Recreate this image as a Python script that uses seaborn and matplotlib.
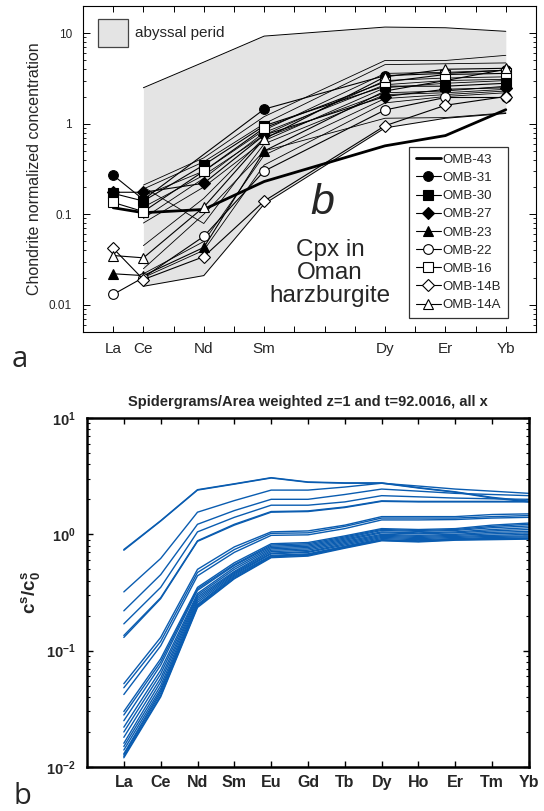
import numpy as np
import pandas as pd
import matplotlib
matplotlib.use("Agg")
import matplotlib.pyplot as plt
import seaborn as sns
from matplotlib.lines import Line2D
from matplotlib.patches import Rectangle
from matplotlib.ticker import LogLocator, NullFormatter, FixedLocator, FixedFormatter

sns.set_theme(style="white")
plt.rcParams["font.family"] = ["Liberation Sans", "DejaVu Sans"]
plt.rcParams["mathtext.fontset"] = "custom"
plt.rcParams["mathtext.rm"] = "Liberation Sans"
plt.rcParams["mathtext.bf"] = "Liberation Sans:bold"
plt.rcParams["mathtext.it"] = "Liberation Sans:italic"

# ---------------------------------------------------------------- panel a data
atomic_number = {"La": 57, "Ce": 58, "Nd": 60, "Sm": 62, "Dy": 66, "Er": 68, "Yb": 70}
ree_a = ["La", "Ce", "Nd", "Sm", "Dy", "Er", "Yb"]

# abyssal peridotite cpx field (Ce..Yb)
field_ree = ["Ce", "Nd", "Sm", "Dy", "Er", "Yb"]
field_upper = [2.5, 4.8, 9.3, 11.7, 11.5, 10.5]
field_lower = [0.016, 0.021, 0.13, 0.9, 1.15, 1.3]

# other abyssal peridotite cpx patterns (Ce..Yb)
field_ree_lines = ["Ce", "Nd", "Sm", "Dy", "Er", "Yb"]
abyssal_1 = [0.21, 0.42, 1.2, 5.0, 5.0, 5.7]
abyssal_2 = [0.19, 0.38, 1.0, 4.5, 4.6, 4.7]
abyssal_3 = [0.16, 0.30, 0.85, 3.6, 3.7, 3.9]
abyssal_4 = [0.12, 0.27, 0.75, 3.0, 3.2, 3.3]
abyssal_5 = [0.09, 0.25, 0.80, 2.7, 3.0, 3.1]
abyssal_6 = [0.08, 0.20, 0.65, 2.5, 2.8, 3.0]
abyssal_7 = [0.045, 0.15, 0.70, 2.2, 2.3, 2.6]
abyssal_8 = [0.022, 0.05, 0.45, 1.9, 2.1, 2.3]
abyssal_9 = [0.020, 0.04, 0.35, 1.7, 2.0, 2.2]
abyssal_10 = [0.20, 0.079, 0.60, 2.1, 2.2, 2.4]
abyssal_11 = [0.025, 0.10, 0.50, 1.15, 1.17, 1.32]

# Oman harzburgite cpx samples (La, Ce, Nd, Sm, Dy, Er, Yb)
omb43 = [0.118, 0.104, 0.113, 0.23, 0.57, 0.74, 1.43]
omb31 = [0.27, 0.145, np.nan, 1.45, 3.4, 3.6, 3.9]
omb30 = [0.17, 0.14, 0.35, 0.95, 2.6, 2.6, 2.8]
omb27 = [0.175, 0.175, 0.22, 0.75, 2.0, 2.4, 2.5]
omb23 = [0.022, 0.021, 0.043, 0.5, 2.3, 3.0, 4.0]
omb22 = [0.013, 0.020, 0.057, 0.30, 1.42, 1.95, 1.95]
omb16 = [0.135, 0.107, 0.30, 0.90, 2.9, 3.5, 3.6]
omb14b = [0.042, 0.019, 0.034, 0.14, 0.95, 1.6, 2.0]
omb14a = [0.035, 0.033, 0.12, 0.68, 3.3, 4.0, 4.1]

# ---------------------------------------------------------------- panel b data
ree_b = ["La", "Ce", "Nd", "Sm", "Eu", "Gd", "Tb", "Dy", "Ho", "Er", "Tm", "Yb"]
run_u1 = [0.73, 1.30, 2.40, 2.70, 3.05, 2.80, 2.75, 2.75, 2.50, 2.30, 2.05, 1.90]
run_u1b = [0.74, 1.31, 2.42, 2.72, 3.07, 2.82, 2.77, 2.77, 2.52, 2.32, 2.08, 1.93]
run_u2 = [0.32, 0.62, 1.55, 1.95, 2.40, 2.40, 2.55, 2.75, 2.60, 2.45, 2.35, 2.25]
run_u3 = [0.22, 0.45, 1.22, 1.60, 2.00, 2.00, 2.20, 2.45, 2.35, 2.25, 2.20, 2.15]
run_u4 = [0.17, 0.35, 1.05, 1.40, 1.78, 1.78, 1.90, 2.15, 2.10, 2.05, 2.02, 2.00]
run_u5 = [0.13, 0.28, 0.87, 1.20, 1.55, 1.57, 1.70, 1.92, 1.90, 1.90, 1.90, 1.90]
run_u5b = [0.135, 0.285, 0.88, 1.22, 1.57, 1.59, 1.72, 1.94, 1.92, 1.92, 1.92, 1.92]
run_m1 = [0.052, 0.13, 0.50, 0.78, 1.05, 1.07, 1.20, 1.42, 1.42, 1.42, 1.48, 1.50]
run_m2 = [0.048, 0.12, 0.47, 0.74, 1.02, 1.03, 1.17, 1.38, 1.38, 1.38, 1.42, 1.45]
run_m3 = [0.042, 0.11, 0.44, 0.70, 0.98, 0.99, 1.12, 1.33, 1.33, 1.34, 1.38, 1.40]
run_l1 = [0.030, 0.085, 0.35, 0.57, 0.83, 0.85, 0.97, 1.12, 1.10, 1.12, 1.20, 1.25]
run_l2 = [0.028, 0.080, 0.34, 0.55, 0.81, 0.83, 0.95, 1.10, 1.08, 1.10, 1.17, 1.22]
run_l3 = [0.025, 0.075, 0.33, 0.54, 0.79, 0.81, 0.93, 1.08, 1.06, 1.08, 1.14, 1.18]
run_l4 = [0.022, 0.068, 0.31, 0.52, 0.77, 0.79, 0.91, 1.05, 1.03, 1.05, 1.10, 1.14]
run_l5 = [0.020, 0.063, 0.30, 0.50, 0.75, 0.77, 0.89, 1.03, 1.01, 1.03, 1.07, 1.10]
run_l6 = [0.018, 0.058, 0.29, 0.48, 0.73, 0.75, 0.87, 1.00, 0.98, 1.00, 1.04, 1.06]
run_l7 = [0.016, 0.054, 0.28, 0.47, 0.71, 0.73, 0.85, 0.98, 0.96, 0.98, 1.01, 1.03]
run_l8 = [0.015, 0.050, 0.27, 0.46, 0.69, 0.71, 0.83, 0.96, 0.94, 0.96, 0.98, 1.00]
run_l9 = [0.014, 0.047, 0.26, 0.45, 0.68, 0.70, 0.81, 0.94, 0.92, 0.94, 0.96, 0.97]
run_l10 = [0.013, 0.045, 0.25, 0.44, 0.66, 0.68, 0.79, 0.92, 0.90, 0.92, 0.94, 0.95]
run_l11 = [0.0127, 0.043, 0.245, 0.43, 0.65, 0.67, 0.78, 0.90, 0.88, 0.91, 0.92, 0.93]
run_l12 = [0.0123, 0.041, 0.24, 0.42, 0.64, 0.66, 0.77, 0.89, 0.87, 0.90, 0.91, 0.92]
run_l13 = [0.012, 0.040, 0.235, 0.415, 0.63, 0.65, 0.76, 0.88, 0.86, 0.89, 0.90, 0.91]

# ---------------------------------------------------------------- figure
W, H = 544, 811
fig = plt.figure(figsize=(W / 100, H / 100), dpi=100)
fig.patch.set_facecolor("white")


def box(l, t, r, b):
    return [l / W, 1 - b / H, (r - l) / W, (b - t) / H]


axa = fig.add_axes(box(83, 6, 536, 332))
axb = fig.add_axes(box(87, 418, 529, 767))

# ---------------------------------------------------------------- panel a
fx = [atomic_number[e] for e in field_ree]
axa.fill_between(fx, field_lower, field_upper, color="#e4e4e4", lw=0, zorder=0)
sns.lineplot(x=fx, y=field_upper, color="black", lw=0.7, ax=axa, zorder=1)
sns.lineplot(x=fx, y=field_lower, color="black", lw=0.7, ax=axa, zorder=1)

abyssal = [abyssal_1, abyssal_2, abyssal_3, abyssal_4, abyssal_5, abyssal_6,
           abyssal_7, abyssal_8, abyssal_9, abyssal_10, abyssal_11]
lx = [atomic_number[e] for e in field_ree_lines]
rows = []
for i, vals in enumerate(abyssal):
    for x, v in zip(lx, vals):
        rows.append({"Z": x, "conc": v, "sample": i})
df_abyssal = pd.DataFrame(rows)
sns.lineplot(data=df_abyssal, x="Z", y="conc", units="sample", estimator=None,
             color="black", lw=0.6, ax=axa, zorder=2)

samples = [
    ("OMB-43", omb43, None, "black", 2.0),
    ("OMB-31", omb31, "o", "black", 0.8),
    ("OMB-30", omb30, "s", "black", 0.8),
    ("OMB-27", omb27, "D", "black", 0.8),
    ("OMB-23", omb23, "^", "black", 0.8),
    ("OMB-22", omb22, "o", "white", 0.8),
    ("OMB-16", omb16, "s", "white", 0.8),
    ("OMB-14B", omb14b, "D", "white", 0.8),
    ("OMB-14A", omb14a, "^", "white", 0.8),
]
handles = []
xa = [atomic_number[e] for e in ree_a]
for name, vals, mk, face, lw in samples:
    d = pd.DataFrame({"Z": xa, "conc": vals}).dropna()
    ms = 6.0 if mk == "D" else 7.0
    kw = dict(marker=mk, markersize=ms, markerfacecolor=face,
              markeredgecolor="black", markeredgewidth=0.8) if mk else dict(marker=None)
    sns.lineplot(data=d, x="Z", y="conc", color="black", lw=lw, ax=axa,
                 zorder=4, **kw)
    handles.append(Line2D([], [], color="black", lw=lw, label=name,
                          **({k: v for k, v in kw.items()} if mk else {})))

axa.set_yscale("log")
axa.set_xlim(56, 71)
axa.set_ylim(0.005, 20)
axa.set_xlabel("")
axa.set_ylabel("Chondrite normalized concentration", fontsize=11.5, labelpad=5)
axa.xaxis.set_major_locator(FixedLocator(xa))
axa.xaxis.set_major_formatter(FixedFormatter(ree_a))
axa.xaxis.set_minor_locator(FixedLocator(list(range(56, 72))))
axa.yaxis.set_major_locator(FixedLocator([0.01, 0.1, 1, 10]))
axa.yaxis.set_major_formatter(FixedFormatter(["0.01", "0.1", "1", "10"]))
axa.yaxis.set_minor_locator(LogLocator(base=10, subs=np.arange(2, 10)))
axa.yaxis.set_minor_formatter(NullFormatter())
axa.tick_params(axis="x", which="both", direction="in", top=True, bottom=True,
                labelsize=11, pad=7, length=4, width=0.7, color="black")
axa.tick_params(axis="y", which="major", direction="in", left=True, right=True,
                labelsize=8.5, pad=8, length=5, width=0.7, color="black")
axa.tick_params(axis="y", which="minor", direction="in", left=True, right=True,
                length=2.5, width=0.6, color="black")
for s in axa.spines.values():
    s.set_color("black")
    s.set_linewidth(0.8)

leg = axa.legend(handles=handles, loc="upper left",
                 bbox_to_anchor=((409 - 83) / 453, (332 - 147) / 326),
                 frameon=True, fancybox=False, edgecolor="black", fontsize=9.5,
                 handlelength=1.9, handletextpad=0.15, labelspacing=0.45,
                 borderpad=0.5, borderaxespad=0)
leg.get_frame().set_linewidth(0.9)

axa.add_patch(Rectangle(((98 - 83) / 453, (332 - 47) / 326), 30 / 453, 28 / 326,
                        transform=axa.transAxes, facecolor="#e4e4e4",
                        edgecolor="#444444", lw=0.9, zorder=5))
axa.text((135 - 83) / 453, (332 - 33) / 326, "abyssal perid", transform=axa.transAxes,
         fontsize=11, va="center", ha="left")
axa.text((322 - 83) / 453, (332 - 203) / 326, "b", transform=axa.transAxes,
         fontsize=31, style="italic", ha="center", va="center")
axa.text((330 - 83) / 453, (332 - 273) / 326, "Cpx in\nOman\nharzburgite",
         transform=axa.transAxes, fontsize=17.5, ha="center", va="center",
         linespacing=1.08)

# ---------------------------------------------------------------- panel b
runs = [run_u1, run_u1b, run_u2, run_u3, run_u4, run_u5, run_u5b,
        run_m1, run_m2, run_m3,
        run_l1, run_l2, run_l3, run_l4, run_l5, run_l6, run_l7,
        run_l8, run_l9, run_l10, run_l11, run_l12, run_l13]
rows = []
for r, vals in enumerate(runs):
    for k, v in enumerate(vals):
        rows.append({"element": k + 1, "ratio": v, "run": r})
df_runs = pd.DataFrame(rows)
sns.lineplot(data=df_runs, x="element", y="ratio", units="run", estimator=None,
             color="#0a5cb0", lw=1.0, ax=axb)

axb.set_yscale("log")
axb.set_xlim(0, 12)
axb.set_ylim(0.01, 10)
axb.set_xlabel("")
axb.set_ylabel(r"$\mathbf{c^s/c^s_0}$", fontsize=13.5)
axb.yaxis.set_label_coords((42 - 87) / 442, 0.5)
axb.set_title("Spidergrams/Area weighted z=1 and t=92.0016, all x",
              fontsize=10.5, fontweight="bold", pad=9)
axb.xaxis.set_major_locator(FixedLocator(list(range(1, len(ree_b) + 1))))
axb.xaxis.set_major_formatter(FixedFormatter(ree_b))
axb.yaxis.set_major_locator(FixedLocator([0.01, 0.1, 1, 10]))
axb.yaxis.set_major_formatter(FixedFormatter(
    [r"$\mathbf{10^{-2}}$", r"$\mathbf{10^{-1}}$", r"$\mathbf{10^{0}}$", r"$\mathbf{10^{1}}$"]))
axb.yaxis.set_minor_locator(LogLocator(base=10, subs=np.arange(2, 10)))
axb.yaxis.set_minor_formatter(NullFormatter())
axb.tick_params(axis="x", which="major", direction="in", top=True, bottom=True,
                labelsize=11.5, pad=6, length=4, width=1.0, color="black")
for lab in axb.get_xticklabels():
    lab.set_fontweight("bold")
axb.tick_params(axis="y", which="major", direction="in", left=True, right=True,
                labelsize=10.5, pad=8, length=4, width=1.0, color="black")
axb.tick_params(axis="y", which="minor", direction="in", left=True, right=True,
                length=2.5, width=0.8, color="black")
for s in axb.spines.values():
    s.set_color("black")
    s.set_linewidth(1.8)

# ---------------------------------------------------------------- panel letters
fig.text(20 / W, 1 - 360 / H, "a", fontsize=21, family=["Open Sans", "DejaVu Sans"],
         ha="center", va="center")
fig.text(22 / W, 1 - 797 / H, "b", fontsize=21, family=["Open Sans", "DejaVu Sans"],
         ha="center", va="center")

fig.savefig("out.png", dpi=100, facecolor="white")
